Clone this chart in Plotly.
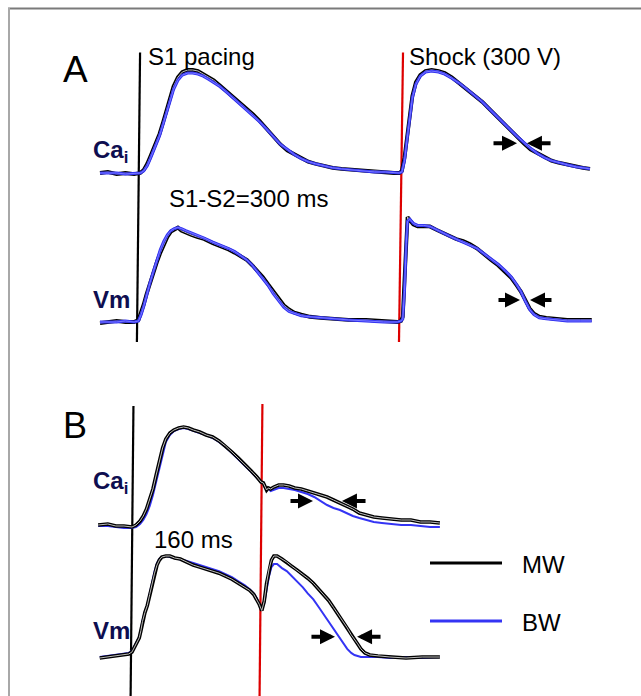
import plotly.graph_objects as go

# ---------------- data (time in ms from S1, amplitude normalised 0..1) ----------------
# Panel A (S1-S2 = 300 ms)
A_ca_t = [-44, -35, -25, -15, -5, 2, 6, 10, 14, 19, 24, 28, 32, 36, 40, 45, 50, 56, 62, 68, 74, 80, 86, 93,
          100, 108, 116, 124, 131, 138, 146, 154, 162, 170, 178, 186, 194, 202, 212, 222, 232, 245, 258, 270,
          282, 292, 298, 301, 304, 307, 310, 313, 317, 322, 328, 335, 343, 350, 358, 367, 376, 385, 393, 400,
          408, 416, 424, 432, 440, 448, 456, 464, 472, 480, 490, 500, 508, 516]
A_ca_mw = [0.00, 0.01, -0.01, 0.00, -0.01, 0.00, 0.03, 0.09, 0.17, 0.27, 0.38, 0.49, 0.60, 0.72, 0.84, 0.93, 0.98,
           1.00, 1.00, 0.99, 0.96, 0.93, 0.90, 0.85, 0.80, 0.74, 0.68, 0.62, 0.57, 0.51, 0.43, 0.35, 0.28, 0.22,
           0.18, 0.14, 0.11, 0.09, 0.07, 0.05, 0.04, 0.03, 0.02, 0.02, 0.01, 0.00, 0.00, 0.02, 0.15, 0.36, 0.58,
           0.75, 0.88, 0.95, 0.99, 1.00, 0.99, 0.97, 0.93, 0.87, 0.81, 0.75, 0.69, 0.63, 0.56, 0.49, 0.42, 0.35,
           0.29, 0.23, 0.19, 0.15, 0.12, 0.10, 0.08, 0.06, 0.05, 0.04]
A_ca_bw = [0.00, 0.00, 0.00, -0.01, 0.00, 0.00, 0.02, 0.07, 0.15, 0.25, 0.36, 0.47, 0.58, 0.70, 0.81, 0.90, 0.95,
           0.97, 0.97, 0.96, 0.94, 0.91, 0.88, 0.84, 0.79, 0.73, 0.67, 0.61, 0.56, 0.50, 0.43, 0.35, 0.28, 0.23,
           0.18, 0.14, 0.11, 0.09, 0.07, 0.05, 0.04, 0.03, 0.02, 0.01, 0.01, 0.00, 0.00, 0.01, 0.12, 0.33, 0.55,
           0.73, 0.86, 0.94, 0.98, 0.99, 0.98, 0.96, 0.92, 0.87, 0.81, 0.75, 0.69, 0.63, 0.56, 0.49, 0.42, 0.36,
           0.30, 0.24, 0.19, 0.15, 0.12, 0.10, 0.08, 0.06, 0.05, 0.04]

A_vm_t = [-44, -35, -25, -15, -5, 0, 3, 6, 9, 13, 17, 21, 25, 29, 33, 37, 41, 45, 49, 54, 60, 67, 75, 85, 95,
          103, 110, 117, 124, 130, 136, 142, 148, 154, 160, 166, 172, 178, 186, 196, 208, 222, 240, 260, 280,
          296, 300, 302, 304, 306, 307.5, 310, 314, 319, 326, 333, 340, 347, 355, 363, 371, 379, 387, 395, 403,
          411, 419, 426, 432, 437, 442, 447, 452, 458, 466, 476, 490, 505, 518]
A_vm_mw = [-0.01, 0.00, 0.01, 0.00, 0.00, 0.02, 0.09, 0.17, 0.26, 0.37, 0.47, 0.57, 0.66, 0.74, 0.81, 0.86, 0.88,
           0.90, 0.87, 0.85, 0.83, 0.81, 0.79, 0.75, 0.72, 0.69, 0.66, 0.63, 0.59, 0.54, 0.49, 0.43, 0.36, 0.29,
           0.22, 0.16, 0.12, 0.09, 0.07, 0.05, 0.04, 0.03, 0.02, 0.02, 0.01, 0.00, 0.01, 0.05, 0.40, 0.85, 1.00,
           0.97, 0.93, 0.91, 0.91, 0.91, 0.88, 0.85, 0.82, 0.79, 0.77, 0.74, 0.70, 0.64, 0.59, 0.54, 0.48, 0.42,
           0.35, 0.29, 0.21, 0.13, 0.08, 0.05, 0.04, 0.03, 0.02, 0.02, 0.02]
A_vm_bw = [0.00, 0.00, 0.00, 0.01, 0.00, 0.01, 0.07, 0.15, 0.25, 0.37, 0.48, 0.59, 0.69, 0.77, 0.83, 0.87, 0.89,
           0.90, 0.89, 0.87, 0.85, 0.83, 0.80, 0.76, 0.73, 0.70, 0.67, 0.63, 0.59, 0.54, 0.48, 0.42, 0.35, 0.27,
           0.20, 0.14, 0.10, 0.08, 0.06, 0.05, 0.04, 0.03, 0.02, 0.01, 0.00, 0.00, 0.01, 0.03, 0.30, 0.75, 0.96,
           0.98, 0.94, 0.92, 0.92, 0.91, 0.88, 0.85, 0.82, 0.79, 0.76, 0.73, 0.70, 0.65, 0.60, 0.55, 0.49, 0.43,
           0.36, 0.29, 0.20, 0.12, 0.07, 0.04, 0.03, 0.02, 0.01, 0.01, 0.01]

# Panel B (S1-S2 = 160 ms)
B_ca_t = [-42, -30, -20, -10, 0, 5, 10, 14, 18, 22, 26, 30, 34, 38, 42, 47, 52, 58, 64, 70, 76, 84, 92, 100,
          108, 116, 124, 132, 140, 148, 155, 160, 163, 165, 167, 169, 172, 176, 182, 188, 195, 202, 210, 218,
          226, 234, 242, 250, 258, 266, 274, 282, 290, 300, 310, 322, 334, 346, 358, 370, 382]
B_ca_mw = [0.02, 0.03, 0.01, 0.01, 0.00, 0.02, 0.06, 0.11, 0.18, 0.27, 0.38, 0.52, 0.67, 0.79, 0.88, 0.94, 0.97,
           0.99, 1.00, 0.99, 0.97, 0.95, 0.92, 0.90, 0.86, 0.81, 0.75, 0.69, 0.63, 0.56, 0.50, 0.45, 0.44, 0.41,
           0.37, 0.39, 0.38, 0.40, 0.42, 0.42, 0.41, 0.39, 0.38, 0.36, 0.34, 0.32, 0.30, 0.27, 0.24, 0.21, 0.18,
           0.14, 0.12, 0.10, 0.09, 0.08, 0.07, 0.07, 0.05, 0.05, 0.04]
B_ca_bw = [0.01, 0.01, 0.00, -0.01, -0.01, 0.00, 0.03, 0.07, 0.13, 0.21, 0.32, 0.45, 0.60, 0.74, 0.85, 0.92, 0.96,
           0.98, 0.99, 0.98, 0.96, 0.94, 0.92, 0.89, 0.85, 0.80, 0.74, 0.68, 0.62, 0.55, 0.49, 0.45, 0.44, 0.39,
           0.38, 0.39, 0.36, 0.37, 0.39, 0.39, 0.38, 0.37, 0.35, 0.33, 0.30, 0.26, 0.22, 0.19, 0.17, 0.14, 0.11,
           0.09, 0.07, 0.05, 0.04, 0.03, 0.02, 0.02, 0.01, 0.00, 0.00]

B_vm_t = [-40, -30, -20, -10, -4, 0, 3, 6, 9, 11, 13, 16, 19, 22, 25, 28, 31, 34, 37, 42, 47, 53, 60, 68, 76, 84,
          92, 100, 108, 116, 124, 132, 140, 146, 151, 155, 158, 161, 164, 167, 170, 173, 176, 180, 186, 192, 198,
          205, 212, 218, 225, 232, 238, 244, 250, 256, 262, 267, 272, 276, 280, 284, 289, 295, 305, 320, 340,
          360, 382]
B_vm_mw = [-0.01, 0.00, 0.01, 0.02, 0.03, 0.05, 0.10, 0.15, 0.19, 0.26, 0.35, 0.44, 0.51, 0.62, 0.73, 0.83, 0.91,
           0.96, 0.99, 1.00, 1.00, 0.98, 0.97, 0.94, 0.91, 0.89, 0.87, 0.85, 0.83, 0.80, 0.77, 0.73, 0.69, 0.66,
           0.62, 0.57, 0.52, 0.46, 0.55, 0.73, 0.87, 0.96, 1.00, 1.00, 0.97, 0.94, 0.90, 0.86, 0.82, 0.78, 0.73,
           0.67, 0.62, 0.56, 0.49, 0.42, 0.35, 0.29, 0.22, 0.18, 0.13, 0.08, 0.04, 0.02, 0.01, 0.00, -0.01, 0.00,
           0.00]
B_vm_bw = [0.00, 0.01, 0.02, 0.03, 0.04, 0.06, 0.11, 0.16, 0.20, 0.27, 0.36, 0.45, 0.52, 0.63, 0.75, 0.85, 0.93,
           0.97, 0.99, 1.00, 0.99, 0.98, 0.97, 0.95, 0.93, 0.91, 0.89, 0.87, 0.85, 0.82, 0.79, 0.75, 0.71, 0.67,
           0.63, 0.58, 0.53, 0.47, 0.53, 0.68, 0.80, 0.89, 0.92, 0.92, 0.88, 0.85, 0.80, 0.75, 0.69, 0.63, 0.57,
           0.49, 0.42, 0.35, 0.28, 0.21, 0.14, 0.08, 0.04, 0.02, 0.01, 0.00, 0.00, 0.00, 0.00, -0.01, 0.00, -0.01,
           0.00]

# stimulus times (ms)
S1_time = 0
A_S2_time = 300
B_S2_time = 160

# arrow markers: (tail time, tip time, amplitude)
A_ca_arrows = [(404, 432.6, 0.29), (472.6, 443.9, 0.29)]
A_vm_arrows = [(409.7, 436, 0.21), (473.7, 447.4, 0.21)]
B_ca_arrows = [(194.8, 224.6, 0.26), (291.6, 260.5, 0.26)]
B_vm_arrows = [(220.8, 251.9, 0.20), (310.2, 279.2, 0.20)]

series_names = ["MW", "BW"]

# ---------------- layout calibration ----------------
W, H = 641, 696
FONT = "Liberation Sans, Arial, sans-serif"
BLUE = "#3434f4"
NAVY = "#0e0e50"
RED = "#dd0000"


def xrange(origin_px, px_per_ms):
    return [-origin_px / px_per_ms, (W - origin_px) / px_per_ms]


def yrange(base_px, peak_px):
    s = base_px - peak_px
    return [(base_px - H) / s, base_px / s]


fig = go.Figure()


def hollow(t, v, xa, ya, color, center, w_out, w_in):
    fig.add_trace(go.Scatter(x=t, y=v, xaxis=xa, yaxis=ya, mode="lines",
                             line=dict(color=color, width=w_out), hoverinfo="skip", showlegend=False))
    fig.add_trace(go.Scatter(x=t, y=v, xaxis=xa, yaxis=ya, mode="lines",
                             line=dict(color=center, width=w_in), hoverinfo="skip", showlegend=False))


def solid(t, v, xa, ya, color, w):
    fig.add_trace(go.Scatter(x=t, y=v, xaxis=xa, yaxis=ya, mode="lines",
                             line=dict(color=color, width=w), hoverinfo="skip", showlegend=False))


# stimulus lines (slight tilt as in the scan)
def stim(t, tilt, top, bottom, xa, ya, color):
    fig.add_trace(go.Scatter(x=[t + tilt, t - tilt], y=[top, bottom], xaxis=xa, yaxis=ya, mode="lines",
                             line=dict(color=color, width=2.2), hoverinfo="skip", showlegend=False))


# Panel A
stim(S1_time, 1.8, 1.17, -1.64, "x", "y", "black")
stim(A_S2_time, 2.3, 1.17, -1.64, "x", "y", RED)
hollow(A_ca_t, A_ca_mw, "x", "y", "black", "#bdbdbd", 3.8, 1.0)
hollow(A_ca_t, A_ca_bw, "x", "y", BLUE, "#7b7bff", 3.0, 1.0)
hollow(A_vm_t, A_vm_mw, "x", "y2", "black", "#bdbdbd", 3.8, 1.0)
hollow(A_vm_t, A_vm_bw, "x", "y2", BLUE, "#7b7bff", 3.0, 1.0)

# Panel B
stim(S1_time, 1.8, 1.21, -1.75, "x2", "y3", "black")
stim(B_S2_time, 1.8, 1.23, -1.75, "x2", "y3", RED)
solid(B_ca_t, B_ca_bw, "x2", "y3", BLUE, 2.0)
hollow(B_ca_t, B_ca_mw, "x2", "y3", "black", "#bdbdbd", 3.6, 1.0)
solid(B_vm_t, B_vm_bw, "x2", "y4", BLUE, 2.0)
hollow(B_vm_t, B_vm_mw, "x2", "y4", "black", "#bdbdbd", 3.6, 1.0)

ann = []
for arrows, xr, yr in [(A_ca_arrows, "x", "y"), (A_vm_arrows, "x", "y2"),
                       (B_ca_arrows, "x2", "y3"), (B_vm_arrows, "x2", "y4")]:
    for tail, tip, amp in arrows:
        ann.append(dict(x=tip, y=amp, ax=tail, ay=amp, xref=xr, yref=yr, axref=xr, ayref=yr,
                        text="", showarrow=True, arrowhead=2, arrowwidth=4, arrowsize=0.75,
                        arrowcolor="black"))


def label(px, py, text, size, color="black", bold=False):
    if bold:
        text = "<b>" + text + "</b>"
    ann.append(dict(x=px / W, y=1 - py / H, xref="paper", yref="paper", text=text, showarrow=False,
                    xanchor="left", yanchor="middle", font=dict(family=FONT, size=size, color=color)))


label(61, 69, "A", 37)
label(146, 57, "S1 pacing", 24)
label(407, 56, "Shock (300 V)", 24)
label(167, 198, "S1-S2=300 ms", 24)
label(91, 151, "Ca<sub>i</sub>", 24, NAVY, True)
label(91, 299, "Vm", 24, NAVY, True)
label(61, 425, "B", 36)
label(91, 482, "Ca<sub>i</sub>", 24, NAVY, True)
label(152, 539, "160 ms", 24)
label(91, 630, "Vm", 24, NAVY, True)
label(520, 564, series_names[0], 24)
label(520, 622, series_names[1], 24)

shapes = [
    dict(type="line", xref="paper", yref="paper", x0=8 / W, x1=1, y0=1 - 8.5 / H, y1=1 - 8.5 / H,
         line=dict(color="#7a7a7a", width=2)),
    dict(type="line", xref="paper", yref="paper", x0=9 / W, x1=9 / W, y0=0, y1=1 - 8 / H,
         line=dict(color="#a8a8a8", width=2)),
    dict(type="line", xref="paper", yref="paper", x0=430 / W, x1=502 / W, y0=1 - 563 / H, y1=1 - 563 / H,
         line=dict(color="black", width=3)),
    dict(type="line", xref="paper", yref="paper", x0=430 / W, x1=502 / W, y0=1 - 621 / H, y1=1 - 621 / H,
         line=dict(color=BLUE, width=3)),
]

hid = dict(visible=False, showgrid=False, zeroline=False, fixedrange=True)
fig.update_layout(
    width=W, height=H, margin=dict(l=0, r=0, t=0, b=0),
    paper_bgcolor="white", plot_bgcolor="white", showlegend=False,
    xaxis=dict(domain=[0, 1], range=xrange(138.5, 0.875), anchor="y", **hid),
    xaxis2=dict(domain=[0, 1], range=xrange(132, 0.806), anchor="y3", overlaying="x", **hid),
    yaxis=dict(domain=[0, 1], range=yrange(173, 70), anchor="x", **hid),
    yaxis2=dict(domain=[0, 1], range=yrange(322, 217), anchor="x", overlaying="y", **hid),
    yaxis3=dict(domain=[0, 1], range=yrange(527, 427), anchor="x2", overlaying="y", **hid),
    yaxis4=dict(domain=[0, 1], range=yrange(657, 556), anchor="x2", overlaying="y", **hid),
    annotations=ann, shapes=shapes,
)

fig.write_html("out.html", config={"displayModeBar": False},
               post_script="document.body.style.margin='0px';document.body.style.overflow='hidden';")
